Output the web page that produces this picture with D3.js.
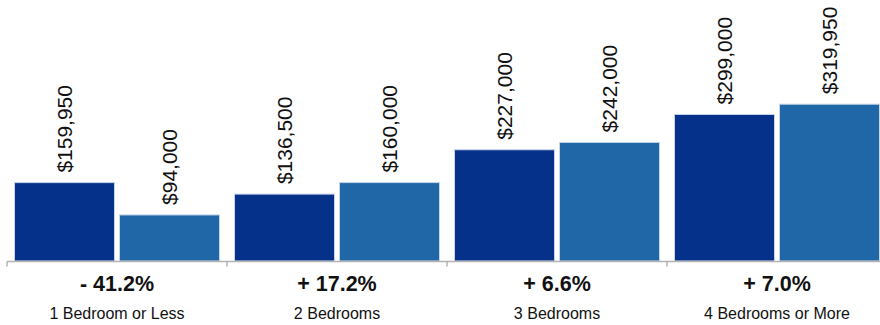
<!DOCTYPE html>
<html>
<head>
<meta charset="utf-8">
<script src="https://cdn.jsdelivr.net/npm/d3@7"></script>
<style>
  html, body { margin: 0; padding: 0; background: #fff; }
  svg { display: block; font-family: "Liberation Sans", Arial, Helvetica, sans-serif; }
</style>
</head>
<body>
<svg id="chart" width="880" height="325"></svg>
<script>
// Median price by bedroom count, previous vs. current period
const categories = ["1 Bedroom or Less", "2 Bedrooms", "3 Bedrooms", "4 Bedrooms or More"];
const series = ["prior", "current"];
const priorValues = [159950, 136500, 227000, 299000];
const currentValues = [94000, 160000, 242000, 319950];
const changeLabels = ["- 41.2%", "+ 17.2%", "+ 6.6%", "+ 7.0%"];
const seriesColors = ["#05318a", "#1f67a6"];

const svg = d3.select("#chart");
const baseline = 261;

const x0 = d3.scaleBand().domain(categories).range([7, 887]).paddingInner(0).paddingOuter(0);
const x1 = d3.scaleBand().domain(series).range([0, x0.bandwidth()])
  .paddingInner(0.0476).paddingOuter(0.0714);
const y = d3.scaleLinear().domain([0, 532600]).range([baseline, 0]);
const color = d3.scaleOrdinal().domain(series).range(seriesColors);

const rows = categories.map((c, i) => ({
  category: c,
  change: changeLabels[i],
  values: [
    { key: "prior", value: priorValues[i] },
    { key: "current", value: currentValues[i] }
  ]
}));

const fmt = v => "$" + d3.format(",")(v);

const groups = svg.selectAll("g.cat").data(rows).join("g")
  .attr("class", "cat")
  .attr("transform", d => `translate(${x0(d.category)},0)`);

groups.selectAll("rect").data(d => d.values).join("rect")
  .attr("x", d => x1(d.key))
  .attr("y", d => y(d.value))
  .attr("width", x1.bandwidth())
  .attr("height", d => y(0) - y(d.value))
  .attr("fill", d => color(d.key))
  .attr("stroke", "#c7d5e8")
  .attr("stroke-width", 1);

groups.selectAll("text.val").data(d => d.values).join("text")
  .attr("class", "val")
  .attr("transform", d => `translate(${x1(d.key) + x1.bandwidth() / 2},${y(d.value) - 10}) rotate(-90)`)
  .attr("dy", "0.36em")
  .attr("text-anchor", "start")
  .attr("font-size", 21)
  .attr("fill", "#111")
  .text(d => fmt(d.value));

// Category axis along the baseline
const axis = svg.append("g").attr("transform", `translate(0,${baseline + 0.5})`);
axis.append("line")
  .attr("x1", 7).attr("x2", 880)
  .attr("stroke", "#b3b3b3").attr("stroke-width", 1.5);
axis.selectAll("line.tick").data(categories).join("line")
  .attr("class", "tick")
  .attr("x1", d => x0(d)).attr("x2", d => x0(d))
  .attr("y1", 0).attr("y2", 5)
  .attr("stroke", "#b3b3b3").attr("stroke-width", 1.5);

svg.selectAll("text.change").data(rows).join("text")
  .attr("class", "change")
  .attr("x", d => x0(d.category) + x0.bandwidth() / 2)
  .attr("y", 291)
  .attr("text-anchor", "middle")
  .attr("font-size", 21.5)
  .attr("font-weight", "bold")
  .attr("fill", "#111")
  .text(d => d.change);

svg.selectAll("text.catlabel").data(rows).join("text")
  .attr("class", "catlabel")
  .attr("x", d => x0(d.category) + x0.bandwidth() / 2)
  .attr("y", 319)
  .attr("text-anchor", "middle")
  .attr("font-size", 16)
  .attr("fill", "#111")
  .text(d => d.category);
</script>
</body>
</html>
